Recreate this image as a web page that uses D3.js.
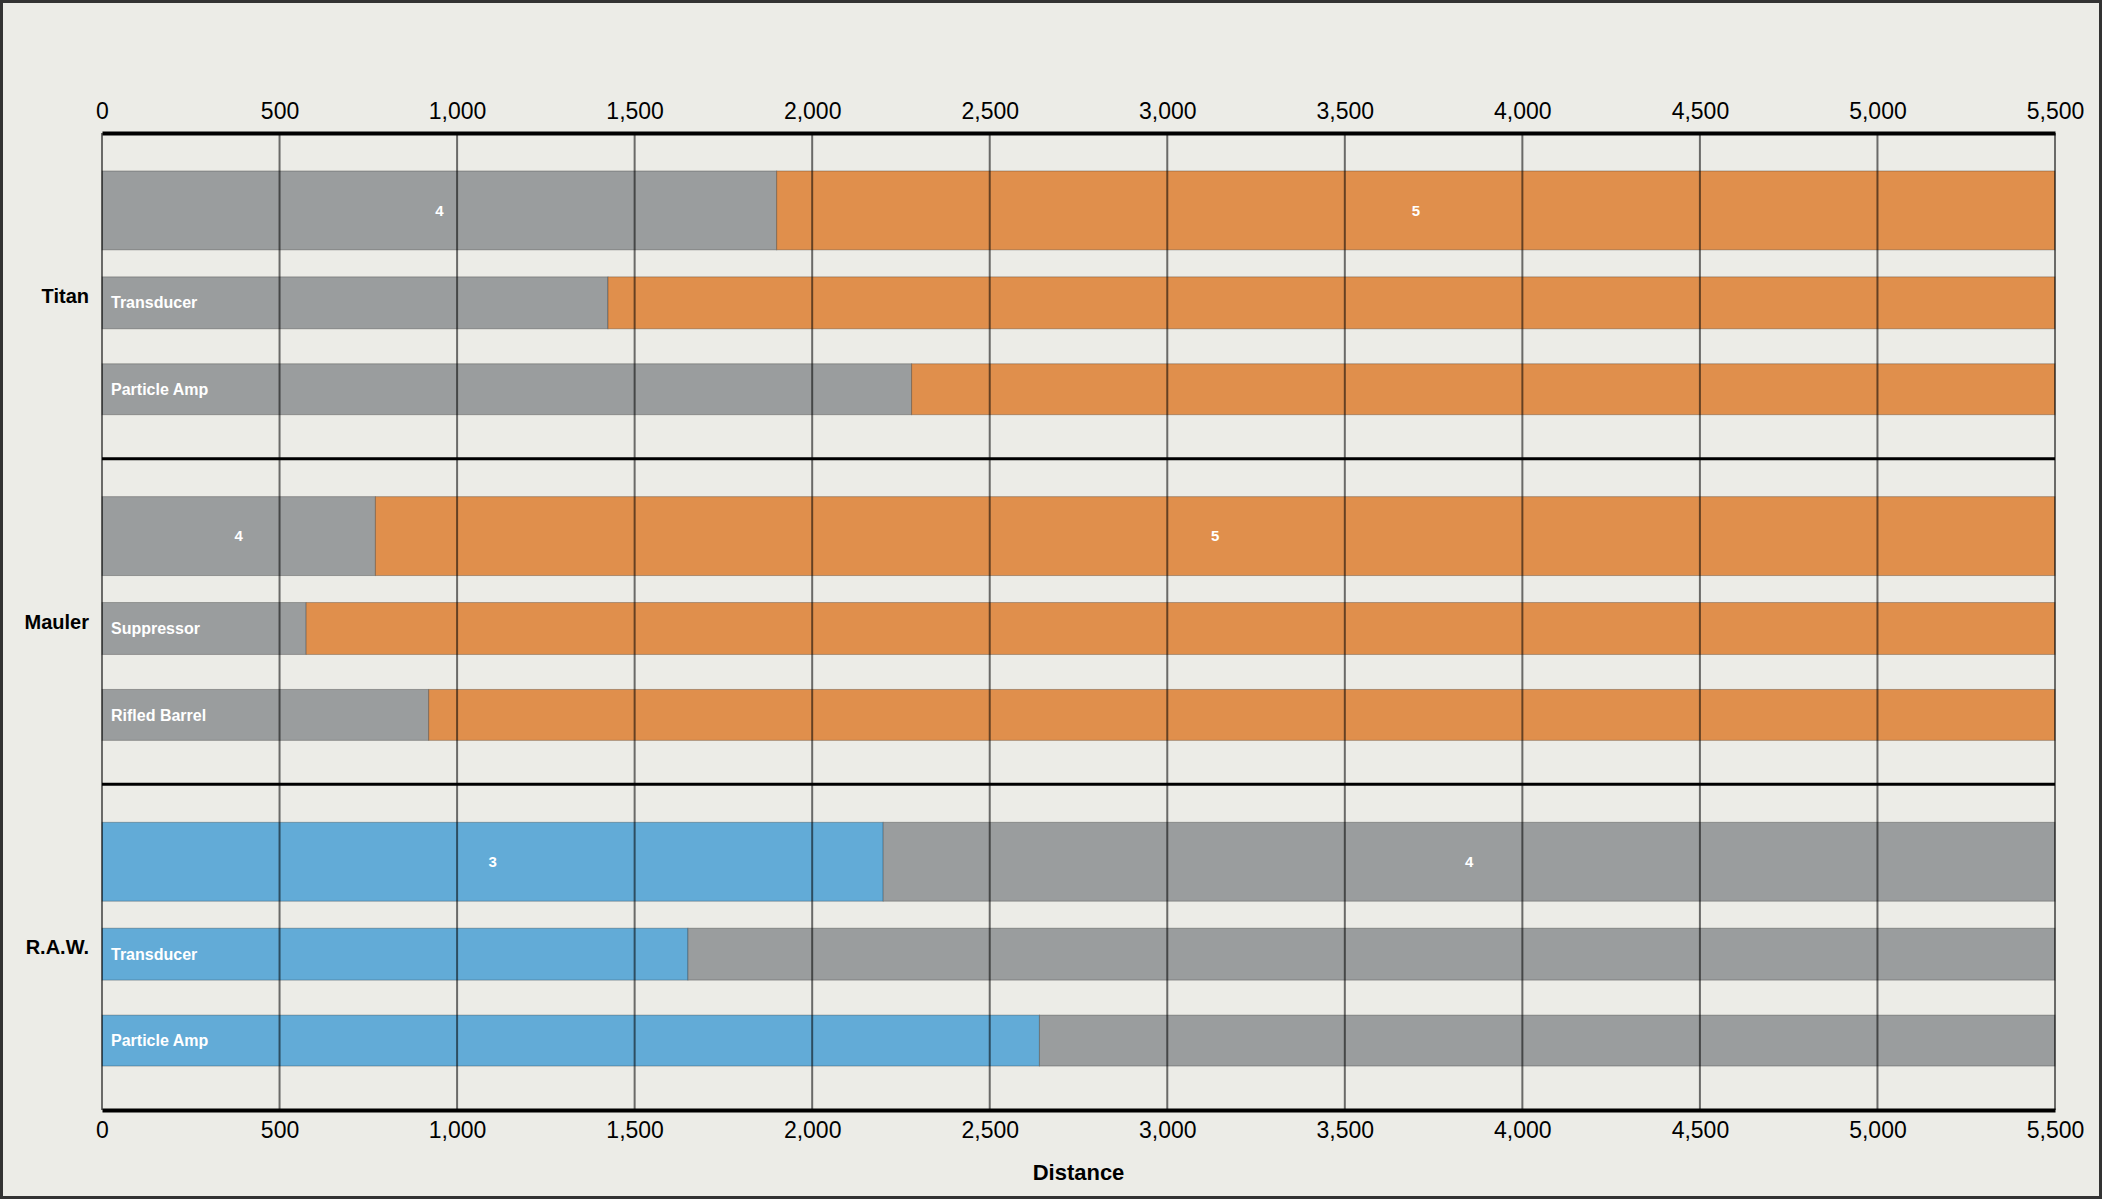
<!DOCTYPE html>
<html><head><meta charset="utf-8">
<script src="https://cdn.jsdelivr.net/npm/d3@7"></script>
<style>body{margin:0;background:#ecece7}svg{display:block}text{font-family:"Liberation Sans",Arial,sans-serif}</style>
</head><body><svg width="2102" height="1199"></svg>
<script>
const groups = ["Titan", "Mauler", "R.A.W."]
const rowNames = [["", "Transducer", "Particle Amp"], ["", "Suppressor", "Rifled Barrel"], ["", "Transducer", "Particle Amp"]]
const splitValues = [[1900, 1425, 2280], [770, 575, 920], [2200, 1650, 2640]]
const maxValue = 5500
const leftLevel = ["4", "4", "3"]
const rightLevel = ["5", "5", "4"]
const levelColor = {"3": "#62abd7", "4": "#9a9d9e", "5": "#e08f4c"}
const ticks = d3.range(0, 5501, 500)

const svg = d3.select("svg")
const W = 2102, H = 1199
const margin = {top: 133, left: 102, right: 47, bottom: 89}
const width = W - margin.left - margin.right
const height = H - margin.top - margin.bottom

svg.append("rect").attr("x", 1.5).attr("y", 1.5).attr("width", W - 3).attr("height", H - 3)
  .attr("fill", "#ecece7").attr("stroke", "#333").attr("stroke-width", 3)

const x = d3.scaleLinear().domain([0, maxValue]).range([0, width])
const gy = d3.scaleBand().domain(groups).range([0, height])
// rows inside a group: [offset, height] as fraction of group height
const rowFr = [[38/326, 79/326], [144/326, 52/326], [231/326, 51/326]]

const g = svg.append("g").attr("transform", "translate(" + margin.left + "," + margin.top + ")")

groups.forEach((grp, gi) => {
  const y0 = gy(grp), gh = gy.bandwidth()
  splitValues[gi].forEach((v, ri) => {
    const ry = y0 + rowFr[ri][0] * gh, rh = rowFr[ri][1] * gh
    g.append("rect").attr("x", x(0)).attr("y", ry).attr("width", x(v) - x(0)).attr("height", rh)
      .attr("fill", levelColor[leftLevel[gi]]).attr("stroke", "rgba(0,0,0,0.25)").attr("stroke-width", 1)
    g.append("rect").attr("x", x(v)).attr("y", ry).attr("width", x(maxValue) - x(v)).attr("height", rh)
      .attr("fill", levelColor[rightLevel[gi]]).attr("stroke", "rgba(0,0,0,0.25)").attr("stroke-width", 1)
    if (ri === 0) {
      g.append("text").attr("x", x(v / 2)).attr("y", ry + rh / 2).attr("dy", "0.35em")
        .attr("text-anchor", "middle").attr("fill", "#fff").attr("font-size", 15).attr("font-weight", "bold")
        .text(leftLevel[gi])
      g.append("text").attr("x", x((v + maxValue) / 2)).attr("y", ry + rh / 2).attr("dy", "0.35em")
        .attr("text-anchor", "middle").attr("fill", "#fff").attr("font-size", 15).attr("font-weight", "bold")
        .text(rightLevel[gi])
    } else {
      g.append("text").attr("x", 9).attr("y", ry + rh / 2).attr("dy", "0.35em")
        .attr("fill", "#fff").attr("font-size", 16).attr("font-weight", "bold").text(rowNames[gi][ri])
    }
  })
  g.append("text").attr("x", -13).attr("y", y0 + gh / 2).attr("dy", "0.35em")
    .attr("text-anchor", "end").attr("font-size", 20).attr("font-weight", "bold").attr("fill", "#000").text(grp)
})

// grid
g.selectAll(".grid").data(ticks).enter().append("line")
  .attr("x1", d => x(d)).attr("x2", d => x(d)).attr("y1", 0).attr("y2", height)
  .attr("stroke", "rgba(0,0,0,0.55)").attr("stroke-width", 2)

// group separators
g.selectAll(".sep").data(groups.slice(1)).enter().append("line")
  .attr("x1", 0).attr("x2", width).attr("y1", d => gy(d)).attr("y2", d => gy(d))
  .attr("stroke", "#000").attr("stroke-width", 3)

const axT = g.append("g").call(d3.axisTop(x).tickValues(ticks).tickSize(0).tickPadding(14))
const axB = g.append("g").attr("transform", "translate(0," + height + ")")
  .call(d3.axisBottom(x).tickValues(ticks).tickSize(0).tickPadding(12))
;[axT, axB].forEach(a => {
  a.select(".domain").attr("stroke", "#000").attr("stroke-width", 4)
  a.selectAll("text").attr("font-size", 23).attr("fill", "#000").style("font-family", "'Liberation Sans',Arial,sans-serif")
})

svg.append("text").attr("x", margin.left + width / 2).attr("y", 1180)
  .attr("text-anchor", "middle").attr("font-size", 22).attr("font-weight", "bold").text("Distance")
</script></body></html>
